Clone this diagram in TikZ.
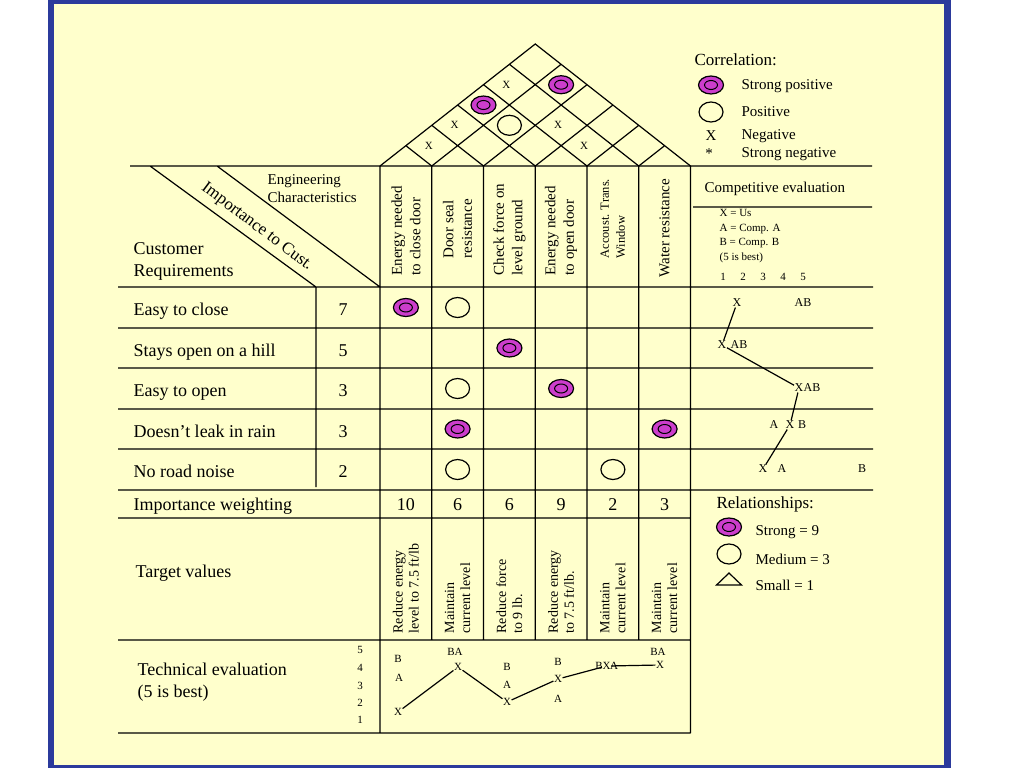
\documentclass[tikz,border=0pt]{standalone}
\usepackage{fontspec}
\setmainfont{Liberation Serif}
\usetikzlibrary{shapes.geometric}
\definecolor{paper}{HTML}{FFFFCC}
\definecolor{framebl}{HTML}{2B3A9C}
\definecolor{orchid}{HTML}{CC3DCC}
\begin{document}
\begin{tikzpicture}[x=1pt,y=-1pt,line width=1.2pt,
    every node/.style={inner sep=0pt,font=\fontsize{15}{18}\selectfont},
    lbl/.style={anchor=base west,font=\fontsize{18}{22}\selectfont},
    big/.style={anchor=base,font=\fontsize{18}{22}\selectfont},
    ec/.style={rotate=90,anchor=west,align=left,font=\fontsize{15}{18.5}\selectfont},
    tv/.style={rotate=90,anchor=west,align=left,font=\fontsize{14}{16}\selectfont},
    tiny/.style={font=\fontsize{11}{13}\selectfont},
    cmp/.style={font=\fontsize{12}{14}\selectfont},
    strong/.style={ellipse,draw,fill=orchid,minimum width=25,minimum height=18,
      path picture={\draw[line width=1pt] (path picture bounding box.center) ellipse [x radius=6.5pt,y radius=4.5pt];}},
    medium/.style={ellipse,draw,minimum width=24,minimum height=20},
    small/.style={isosceles triangle,isosceles triangle stretches,shape border rotate=90,draw,minimum width=25,minimum height=12}]
  \useasboundingbox (0,0) rectangle (1024,768);
  \fill[white] (0,0) rectangle (1024,768);
  \fill[framebl] (48,0) rectangle (951,768);
  \fill[paper] (54,4) rectangle (944,765);
  \draw
    (130,166) -- (872,166)
    (118,287) -- (873,287)
    (118,328) -- (873,328)
    (118,368) -- (873,368)
    (118,409) -- (873,409)
    (118,449) -- (873,449)
    (118,490) -- (873,490)
    (118,518) -- (690.5,518)
    (118,640) -- (690.5,640)
    (118,733) -- (690.5,733)
    (693,207) -- (872,207)
    (316,287) -- (316,487)
    (380,166) -- (380,733)
    (431.75,166) -- (431.75,640)
    (483.5,166) -- (483.5,640)
    (535.25,166) -- (535.25,640)
    (587,166) -- (587,640)
    (638.75,166) -- (638.75,640)
    (690.5,166) -- (690.5,733)
    (150,166) -- (316,287)
    (217,166) -- (380,287);
  \draw
    (380,166) -- (535.25,44) -- (690.5,166)
    (405.9,145.7) -- (431.75,166) -- (561.1,64.3)
    (431.75,125.3) -- (483.5,166) -- (587,84.7)
    (457.6,105) -- (535.25,166) -- (612.9,105)
    (483.5,84.7) -- (587,166) -- (638.75,125.3)
    (509.4,64.3) -- (638.75,166) -- (664.6,145.7);
  \draw
    (428.75,145.7) node[tiny] (c12) {X}
    (454.6,125.3) node[tiny] (c13) {X}
    (483.5,105) node[strong] (c14) {}
    (509.4,125.3) node[medium] (c24) {}
    (506.4,84.7) node[tiny] (c15) {X}
    (561.1,84.7) node[strong] (c26) {}
    (558.1,125.3) node[tiny] (c35) {X}
    (584,145.7) node[tiny] (c45) {X};
  \draw
    (694,60) node[anchor=west,font=\fontsize{17}{20}\selectfont] (corr) {Correlation:}
    (711,85) node[strong] (corrsp) {}
    (741,86) node[anchor=west] (corrsptxt) {Strong positive}
    (711,112) node[medium] (corrp) {}
    (741,112) node[anchor=west] (corrptxt) {Positive}
    (711,136) node (corrn) {X}
    (741,136) node[anchor=west] (corrntxt) {Negative}
    (709,154) node (corrsn) {*}
    (741,154) node[anchor=west] (corrsntxt) {Strong negative};
  \draw
    (267,189) node[anchor=west,align=left] (engch) {Engineering\\Characteristics}
    (133,261) node[anchor=west,align=left,font=\fontsize{18}{22}\selectfont] (custreq) {Customer\\Requirements}
    (257,227) node[rotate=-37,font=\fontsize{17}{20}\selectfont] (impcust) {Importance to Cust.};
  \draw
    (405.9,276) node[ec] (ec1) {Energy needed\\to close door}
    (457.6,259) node[ec] (ec2) {Door seal\\resistance}
    (509.4,276) node[ec] (ec3) {Check force on\\level ground}
    (561.1,276) node[ec] (ec4) {Energy needed\\to open door}
    (612.9,259) node[ec,font=\fontsize{12.5}{16}\selectfont] (ec5) {Accoust. Trans.\\Window}
    (664.6,278) node[ec] (ec6) {Water resistance};
  \draw
    (704,189) node[anchor=west] (comp) {Competitive evaluation}
    (719,236) node[anchor=west,align=left,font=\fontsize{11}{14.7}\selectfont] (compkey) {X = Us\\A = Comp. A\\B = Comp. B\\(5 is best)}
    (723,277) node[tiny] (s1) {1}
    (743,277) node[tiny] (s2) {2}
    (763,277) node[tiny] (s3) {3}
    (783,277) node[tiny] (s4) {4}
    (803,277) node[tiny] (s5) {5};
  \draw
    (133,315) node[lbl] (req1) {Easy to close}
    (133,356) node[lbl] (req2) {Stays open on a hill}
    (133,396) node[lbl] (req3) {Easy to open}
    (133,437) node[lbl] (req4) {Doesn’t leak in rain}
    (133,477) node[lbl] (req5) {No road noise}
    (343,315) node[big] (imp1) {7}
    (343,356) node[big] (imp2) {5}
    (343,396) node[big] (imp3) {3}
    (343,437) node[big] (imp4) {3}
    (343,477) node[big] (imp5) {2};
  \draw
    (405.9,307.5) node[strong] (r1c1) {}
    (457.6,307.5) node[medium] (r1c2) {}
    (509.4,348) node[strong] (r2c3) {}
    (457.6,388.5) node[medium] (r3c2) {}
    (561.1,388.5) node[strong] (r3c4) {}
    (457.6,429) node[strong] (r4c2) {}
    (664.6,429) node[strong] (r4c6) {}
    (457.6,469.5) node[medium] (r5c2) {}
    (612.9,469.5) node[medium] (r5c5) {};
  \draw
    (737,303) node[cmp] (x1) {X}
    (803,303) node[cmp] (ab1) {AB}
    (722,345) node[cmp] (x2) {X}
    (739,345) node[cmp] (ab2) {AB}
    (799,388) node[cmp] (x3) {X}
    (812,388) node[cmp] (ab3) {AB}
    (774,425) node[cmp] (a4) {A}
    (790,425) node[cmp] (x4) {X}
    (802,425) node[cmp] (b4) {B}
    (763,469) node[cmp] (x5) {X}
    (782,469) node[cmp] (a5) {A}
    (862,469) node[cmp] (b5) {B};
  \draw (x1) -- (x2) -- (x3) -- (x4) -- (x5);
  \draw
    (133,510) node[lbl] (impw) {Importance weighting}
    (405.9,510) node[big] (w1) {10}
    (457.6,510) node[big] (w2) {6}
    (509.4,510) node[big] (w3) {6}
    (561.1,510) node[big] (w4) {9}
    (612.9,510) node[big] (w5) {2}
    (664.6,510) node[big] (w6) {3};
  \draw
    (716,504) node[anchor=west,font=\fontsize{17}{20}\selectfont] (rel) {Relationships:}
    (729,527) node[strong] (relst) {}
    (755,532) node[anchor=west] (relsttxt) {Strong = 9}
    (729,554) node[medium] (relmd) {}
    (755,559) node[anchor=west] (relmdtxt) {Medium = 3}
    (729,580) node[small] (relsm) {}
    (755,585) node[anchor=west] (relsmtxt) {Small = 1};
  \draw
    (135,573) node[anchor=west,font=\fontsize{18}{22}\selectfont] (target) {Target values}
    (405.9,634) node[tv] (tv1) {Reduce energy\\level to 7.5 ft/lb}
    (457.6,634) node[tv] (tv2) {Maintain\\current level}
    (509.4,634) node[tv] (tv3) {Reduce force\\to 9 lb.}
    (561.1,634) node[tv] (tv4) {Reduce energy\\to 7.5 ft/lb.}
    (612.9,634) node[tv] (tv5) {Maintain\\current level}
    (664.6,634) node[tv] (tv6) {Maintain\\current level};
  \draw
    (137,682) node[anchor=west,align=left,font=\fontsize{18}{22}\selectfont] (techev) {Technical evaluation\\(5 is best)}
    (360,650) node[tiny] (t5) {5}
    (360,668) node[tiny] (t4) {4}
    (360,686) node[tiny] (t3) {3}
    (360,703) node[tiny] (t2) {2}
    (360,720) node[tiny] (t1) {1};
  \draw
    (398,659) node[tiny] (tb1) {B}
    (399,678) node[tiny] (ta1) {A}
    (398,712) node[tiny] (tx1) {X}
    (455,652) node[tiny] (tba2) {BA}
    (458,667) node[tiny] (tx2) {X}
    (507,667) node[tiny] (tb3) {B}
    (507,685) node[tiny] (ta3) {A}
    (507,702) node[tiny] (tx3) {X}
    (558,662) node[tiny] (tb4) {B}
    (558,679) node[tiny] (tx4) {X}
    (558,699) node[tiny] (ta4) {A}
    (599,666) node[tiny] (tb5) {B}
    (606.5,666) node[tiny] (tx5) {X}
    (614,666) node[tiny] (ta5) {A}
    (658,652) node[tiny] (tba6) {BA}
    (660,665) node[tiny] (tx6) {X};
  \draw (tx1) -- (tx2) -- (tx3) -- (tx4) -- (tx5) -- (tx6);
\end{tikzpicture}
\end{document}
